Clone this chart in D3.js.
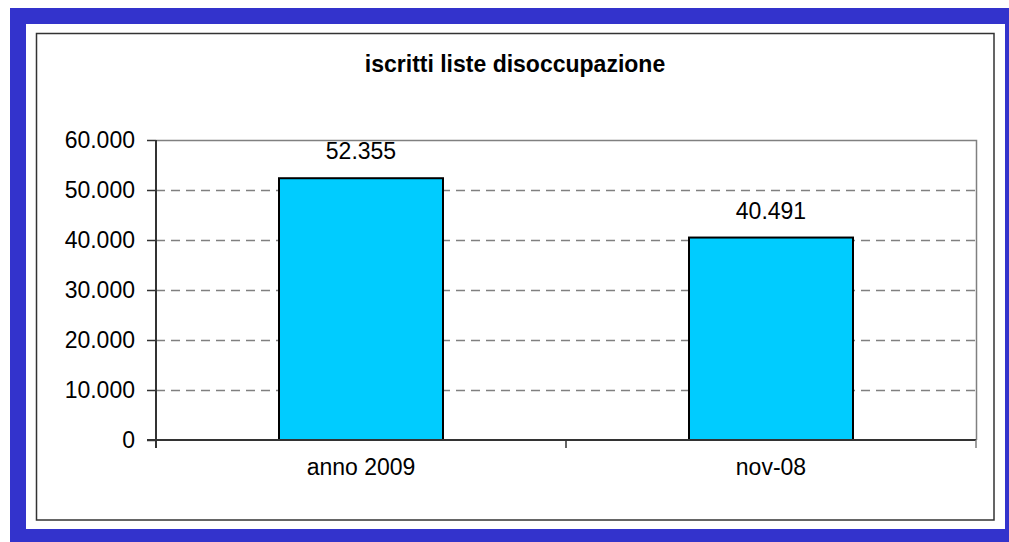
<!DOCTYPE html>
<html>
<head>
<meta charset="utf-8">
<script src="https://cdn.jsdelivr.net/npm/d3@7"></script>
<style>
  body { margin: 0; background: #fff; }
  text { font-family: Arial, "Liberation Sans", sans-serif; fill: #000; }
</style>
</head>
<body>
<script>
// data
var categories = ["anno 2009", "nov-08"];
var values = [52355, 40491];
var yTicks = [0, 10000, 20000, 30000, 40000, 50000, 60000];
var title = "iscritti liste disoccupazione";

var width = 1009,
    height = 542;

// plot area (pixels)
var plotLeft = 156, plotRight = 976, plotTop = 140, plotBottom = 440;

var it = d3.formatLocale({decimal: ",", thousands: ".", grouping: [3], currency: ["", " €"]});
var fmt = it.format(",");

var svg = d3.select("body").append("svg")
    .attr("width", width)
    .attr("height", height);

// blue outer border + white area + chart frame
svg.append("rect")
    .attr("x", 10).attr("y", 8)
    .attr("width", width - 10).attr("height", height - 8)
    .attr("fill", "#3333cc");
svg.append("rect")
    .attr("x", 26).attr("y", 24)
    .attr("width", 979).attr("height", 505)
    .attr("fill", "#fff");
svg.append("rect")
    .attr("x", 36.5).attr("y", 33.5)
    .attr("width", 957.5).attr("height", 486.5)
    .attr("fill", "none")
    .attr("stroke", "#333")
    .attr("stroke-width", 1.5);

var x = d3.scaleBand()
    .domain(categories)
    .range([plotLeft, plotRight])
    .paddingInner(0.6)
    .paddingOuter(0.3);

var y = d3.scaleLinear()
    .domain([0, 60000])
    .range([plotBottom, plotTop]);

// gridlines
svg.append("g")
    .selectAll("line")
    .data(yTicks.filter(function(d) { return d > 0 && d < 60000; }))
    .enter().append("line")
      .attr("x1", plotLeft).attr("x2", plotRight)
      .attr("y1", function(d) { return y(d) + 0.5; })
      .attr("y2", function(d) { return y(d) + 0.5; })
      .attr("stroke", "#808080")
      .attr("stroke-width", 1.5)
      .attr("stroke-dasharray", "9,6");

// plot area border (top and right)
svg.append("path")
    .attr("d", "M" + plotLeft + "," + (plotTop + 0.5) + "H" + (plotRight + 0.5) + "V" + plotBottom)
    .attr("fill", "none")
    .attr("stroke", "#808080")
    .attr("stroke-width", 1.5);

// bars
svg.append("g")
    .selectAll("rect")
    .data(values)
    .enter().append("rect")
      .attr("x", function(d, i) { return x(categories[i]); })
      .attr("y", function(d) { return y(d); })
      .attr("width", x.bandwidth())
      .attr("height", function(d) { return plotBottom - y(d); })
      .attr("fill", "#00ccff")
      .attr("stroke", "#000")
      .attr("stroke-width", 2);

// data labels
svg.append("g")
    .selectAll("text")
    .data(values)
    .enter().append("text")
      .attr("x", function(d, i) { return x(categories[i]) + x.bandwidth() / 2; })
      .attr("y", function(d) { return y(d) - 19; })
      .attr("text-anchor", "middle")
      .style("font-size", "23px")
      .text(function(d) { return fmt(d); });

// y axis
var yAxis = svg.append("g")
    .attr("transform", "translate(" + plotLeft + ",0)")
    .call(d3.axisLeft(y).tickValues(yTicks).tickFormat(fmt).tickSize(9).tickPadding(12));
yAxis.select(".domain").remove();
yAxis.selectAll(".tick line").attr("stroke", "#333").attr("stroke-width", 1.5);
yAxis.selectAll(".tick text").style("font-size", "23px").attr("fill", "#000");
svg.append("line")
    .attr("x1", plotLeft).attr("x2", plotLeft)
    .attr("y1", plotTop).attr("y2", plotBottom + 8)
    .attr("stroke", "#333").attr("stroke-width", 2);

// x axis
svg.append("line")
    .attr("x1", plotLeft - 9).attr("x2", plotRight)
    .attr("y1", plotBottom).attr("y2", plotBottom)
    .attr("stroke", "#333").attr("stroke-width", 2);
svg.append("g")
    .selectAll("line")
    .data([plotLeft, (plotLeft + plotRight) / 2, plotRight])
    .enter().append("line")
      .attr("x1", function(d) { return d; }).attr("x2", function(d) { return d; })
      .attr("y1", plotBottom).attr("y2", plotBottom + 8)
      .attr("stroke", function(d, i) { return i == 2 ? "#808080" : "#333"; })
      .attr("stroke-width", 1.5);

svg.append("g")
    .selectAll("text")
    .data(categories)
    .enter().append("text")
      .attr("x", function(d) { return x(d) + x.bandwidth() / 2; })
      .attr("y", 475)
      .attr("text-anchor", "middle")
      .style("font-size", "23px")
      .text(function(d) { return d; });

// title
svg.append("text")
    .attr("x", 515)
    .attr("y", 72)
    .attr("text-anchor", "middle")
    .style("font-size", "23px")
    .style("font-weight", "bold")
    .text(title);
</script>
</body>
</html>
